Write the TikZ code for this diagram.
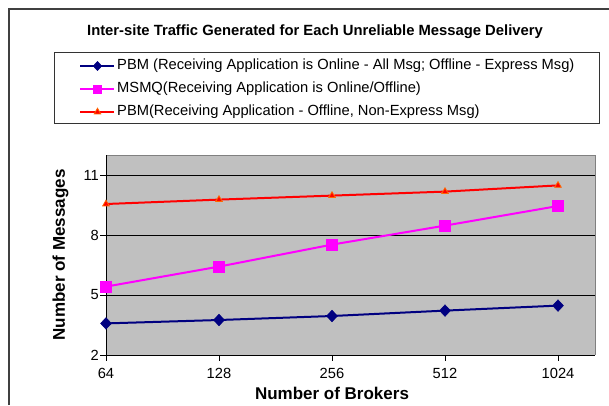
\documentclass[tikz,border=0pt]{standalone}
\usepackage{fontspec}
\setmainfont{Liberation Sans}
\usepackage{tikz}
\usetikzlibrary{plotmarks}
\definecolor{navyline}{RGB}{0,0,128}
\definecolor{msmqpink}{RGB}{255,0,255}
\definecolor{plotgray}{RGB}{192,192,192}
\definecolor{framegray}{RGB}{128,128,128}
\definecolor{markorange}{RGB}{255,102,0}

\begin{document}
\begin{tikzpicture}[x=1pt, y=-1pt, font=\fontsize{14.7}{18}\selectfont,
	pbmline/.style={line width=2pt, navyline, mark=diamond*, mark size=5.8pt, mark options={xscale=1.25, line width=0.5pt, fill=navyline, draw=navyline}},
	msmqline/.style={line width=2pt, msmqpink, mark=square*, mark size=5.4pt, mark options={line width=0.5pt, fill=msmqpink, draw=msmqpink}},
	offline/.style={line width=2pt, red, mark=triangle*, mark size=3.8pt, mark options={line width=0.8pt, fill=red, draw=markorange}},
	axistitle/.style={font=\fontsize{17}{20}\bfseries\selectfont}]
\useasboundingbox (0,0) rectangle (609,405);
\fill[white] (0,0) rectangle (609,405);

\draw[line width=1.5pt, black!75] (9,405) -- (9,9) -- (609,9);
\node (title) at (315,32) {\fontsize{14.8}{17}\bfseries\selectfont Inter-site Traffic Generated for Each Unreliable Message Delivery};

\draw[black!80, fill=white] (54,52) rectangle (599,123);
\draw[pbmline, mark indices={2}, mark size=4.6pt] plot coordinates {(80,66) (97.5,66) (114,66)};
\draw[msmqline, mark indices={2}, mark size=4.2pt] plot coordinates {(80,89) (97.5,89) (114,89)};
\draw[offline, mark indices={2}] plot coordinates {(80,112) (97.5,112) (114,112)};
\node[anchor=west, inner sep=1pt] (leg1) at (116,66) {PBM (Receiving Application is Online - All Msg; Offline - Express Msg)};
\node[anchor=west, inner sep=1pt] (leg2) at (116,89) {MSMQ(Receiving Application is Online/Offline)};
\node[anchor=west, inner sep=1pt] (leg3) at (116,112) {PBM(Receiving Application - Offline, Non-Express Msg)};

\fill[plotgray] (106,155) rectangle (595,355);
\draw[framegray] (106,155) -- (595,155) -- (595,355);
\foreach \y in {175, 235, 295}
{
	\draw (106,\y) -- (595,\y);
}
\draw (106,155) -- (106,355) -- (595,355);

\foreach \v/\y in {2/355, 5/295, 8/235, 11/175}
{
	\draw (106,\y) -- (100,\y) node[anchor=east, inner sep=1pt] (yl\v) {\v};
}
\foreach \n [count=\i from 0] in {64, 128, 256, 512, 1024}
{
	\draw ({106+113*\i},355) -- ({106+113*\i},361) node[anchor=north, yshift=-3.6pt] (xl\i) {\n};
}

\node[axistitle, rotate=90] (ytitle) at (60.5,255) {Number of Messages};
\node[axistitle] (xtitle) at (332,393) {Number of Brokers};

\begin{scope}[shift={(106pt,-395pt)}, x=113pt, y=20pt]
\draw[pbmline] plot coordinates {(0,3.58) (1,3.75) (2,3.95) (3,4.22) (4,4.47)};
\draw[msmqline] plot coordinates {(0,5.42) (1,6.42) (2,7.52) (3,8.47) (4,9.45)};
\draw[offline] plot coordinates {(0,9.55) (1,9.77) (2,9.97) (3,10.17) (4,10.48)};
\end{scope}
\end{tikzpicture}
\end{document}
